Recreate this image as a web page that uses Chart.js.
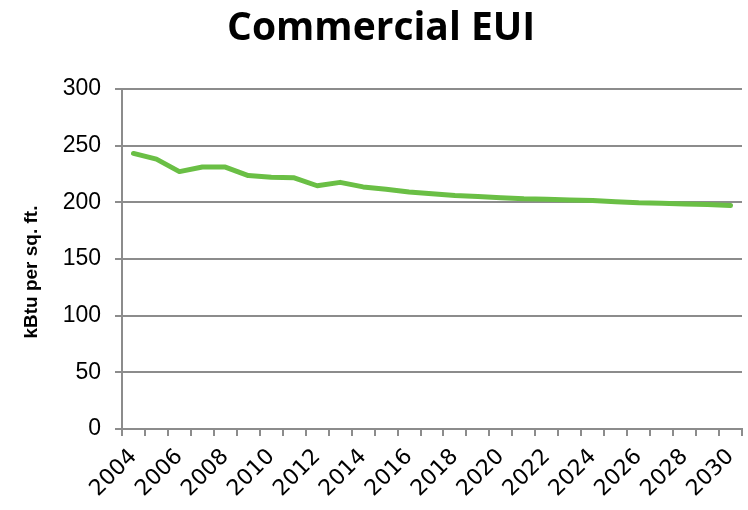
<!DOCTYPE html>
<html>
<head>
<meta charset="utf-8">
<title>Commercial EUI</title>
<script src="https://cdn.jsdelivr.net/npm/chart.js@4.4.1/dist/chart.umd.min.js"></script>
<style>
  html, body { margin: 0; padding: 0; background: #fff; }
  #wrap { width: 748px; height: 510px; }
</style>
</head>
<body>
<div id="wrap"><canvas id="euiChart" width="748" height="510"></canvas></div>
<script>
// Commercial energy use intensity, kBtu per sq. ft., by year
const years = ['2004', '2005', '2006', '2007', '2008', '2009', '2010', '2011', '2012',
    '2013', '2014', '2015', '2016', '2017', '2018', '2019', '2020', '2021', '2022',
    '2023', '2024', '2025', '2026', '2027', '2028', '2029', '2030'];
const euiValues = [243, 238, 227, 231, 231, 223.5, 222, 221.5, 214.5, 217.5, 213.5, 211.5,
    209, 207.5, 206, 205, 204, 203, 202.5, 202, 201.5, 200.5, 199.5, 199, 198.5, 198, 197];
const yTicks = [0, 50, 100, 150, 200, 250, 300];

const gridGray = '#8c8c8c';

const ctx = document.getElementById('euiChart').getContext('2d');
new Chart(ctx, {
    type: 'line',
    data: {
        labels: years,
        datasets: [{
            label: 'Commercial EUI',
            data: euiValues,
            borderColor: '#6abf45',
            borderWidth: 5,
            pointRadius: 0,
            tension: 0,
            borderJoinStyle: 'round',
            borderCapStyle: 'round'
        }]
    },
    options: {
        responsive: false,
        animation: false,
        devicePixelRatio: 1,
        layout: {
            padding: { left: 0, right: 6, top: 0, bottom: 0 }
        },
        plugins: {
            legend: { display: false },
            tooltip: { enabled: false },
            title: {
                display: true,
                // leading spaces nudge the title a little right of centre
                text: '  Commercial EUI',
                color: '#000',
                font: { family: 'Open Sans', weight: 'bold', size: 39 },
                padding: { top: 5, bottom: 37 }
            }
        },
        scales: {
            x: {
                offset: true,
                grid: {
                    offset: true,
                    drawOnChartArea: false,
                    drawTicks: true,
                    tickLength: 7,
                    color: gridGray,
                    lineWidth: 2
                },
                border: { color: gridGray, width: 2 },
                ticks: {
                    autoSkip: false,
                    minRotation: 45,
                    maxRotation: 45,
                    padding: 8,
                    color: '#000',
                    font: { family: 'DejaVu Sans', size: 22 },
                    callback: function(value, index) {
                        return index % 2 === 0 ? years[index] : '';
                    }
                },
                afterFit: function(scale) {
                    scale.height = 81;
                    // rotated labels end at their tick, so no side padding is needed
                    scale.paddingLeft = 0;
                    scale.paddingRight = 0;
                }
            },
            y: {
                min: 0,
                max: 300,
                afterBuildTicks: function(scale) {
                    scale.ticks = yTicks.map(v => ({ value: v }));
                },
                grid: {
                    color: gridGray,
                    lineWidth: 2,
                    tickLength: 7
                },
                border: { color: gridGray, width: 2 },
                ticks: {
                    padding: 14,
                    color: '#000',
                    font: { family: 'Liberation Sans', size: 23 }
                },
                title: {
                    display: true,
                    // trailing spaces drop the rotated title slightly below centre
                    text: 'kBtu per sq. ft.     ',
                    color: '#000',
                    font: { family: 'Liberation Sans', weight: 'bold', size: 19 },
                    padding: { top: 20, bottom: 0 }
                },
                afterFit: function(scale) { scale.width = 122; }
            }
        }
    }
});
</script>
</body>
</html>
